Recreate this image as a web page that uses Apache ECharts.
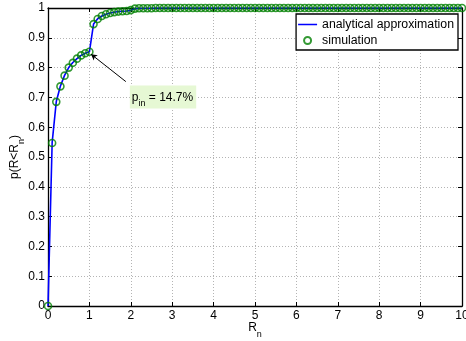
<!DOCTYPE html>
<html>
<head>
<meta charset="utf-8">
<script src="https://cdn.jsdelivr.net/npm/echarts@6/dist/echarts.min.js"></script>
<style>
  html, body { margin: 0; padding: 0; background: #fff; }
  #chart { width: 466px; height: 341px; }
</style>
</head>
<body>
<div id="chart"></div>
<script>
// R_n sample positions
const rn = [
  0.0, 0.1, 0.2, 0.3, 0.4, 0.5, 0.6, 0.7, 0.8, 0.9,
  1.0, 1.1, 1.2, 1.3, 1.4, 1.5, 1.6, 1.7, 1.8, 1.9,
  2.0, 2.1, 2.2, 2.3, 2.4, 2.5, 2.6, 2.7, 2.8, 2.9,
  3.0, 3.1, 3.2, 3.3, 3.4, 3.5, 3.6, 3.7, 3.8, 3.9,
  4.0, 4.1, 4.2, 4.3, 4.4, 4.5, 4.6, 4.7, 4.8, 4.9,
  5.0, 5.1, 5.2, 5.3, 5.4, 5.5, 5.6, 5.7, 5.8, 5.9,
  6.0, 6.1, 6.2, 6.3, 6.4, 6.5, 6.6, 6.7, 6.8, 6.9,
  7.0, 7.1, 7.2, 7.3, 7.4, 7.5, 7.6, 7.7, 7.8, 7.9,
  8.0, 8.1, 8.2, 8.3, 8.4, 8.5, 8.6, 8.7, 8.8, 8.9,
  9.0, 9.1, 9.2, 9.3, 9.4, 9.5, 9.6, 9.7, 9.8, 9.9,
  10.0
];

// analytical approximation of p(R < R_n)
const analytical = [
  0.000, 0.548, 0.686, 0.738, 0.774, 0.800, 0.817, 0.830, 0.841, 0.848,
  0.853, 0.946, 0.964, 0.973, 0.979, 0.983, 0.986, 0.988, 0.989, 0.990,
  0.992, 0.998, 0.999, 0.999, 0.999, 0.999, 1.000, 1.000, 1.000, 1.000,
  1.000, 1.000, 1.000, 1.000, 1.000, 1.000, 1.000, 1.000, 1.000, 1.000,
  1.000, 1.000, 1.000, 1.000, 1.000, 1.000, 1.000, 1.000, 1.000, 1.000,
  1.000, 1.000, 1.000, 1.000, 1.000, 1.000, 1.000, 1.000, 1.000, 1.000,
  1.000, 1.000, 1.000, 1.000, 1.000, 1.000, 1.000, 1.000, 1.000, 1.000,
  1.000, 1.000, 1.000, 1.000, 1.000, 1.000, 1.000, 1.000, 1.000, 1.000,
  1.000, 1.000, 1.000, 1.000, 1.000, 1.000, 1.000, 1.000, 1.000, 1.000,
  1.000, 1.000, 1.000, 1.000, 1.000, 1.000, 1.000, 1.000, 1.000, 1.000,
  1.000
];

// simulated p(R < R_n)
const simulation = [
  0.000, 0.547, 0.685, 0.737, 0.773, 0.800, 0.816, 0.830, 0.841, 0.848,
  0.853, 0.946, 0.963, 0.973, 0.979, 0.983, 0.986, 0.988, 0.989, 0.990,
  0.993, 0.998, 0.999, 0.999, 0.999, 0.999, 1.000, 1.000, 1.000, 1.000,
  1.000, 1.000, 1.000, 1.000, 1.000, 1.000, 1.000, 1.000, 1.000, 1.000,
  1.000, 1.000, 1.000, 1.000, 1.000, 1.000, 1.000, 1.000, 1.000, 1.000,
  1.000, 1.000, 1.000, 1.000, 1.000, 1.000, 1.000, 1.000, 1.000, 1.000,
  1.000, 1.000, 1.000, 1.000, 1.000, 1.000, 1.000, 1.000, 1.000, 1.000,
  1.000, 1.000, 1.000, 1.000, 1.000, 1.000, 1.000, 1.000, 1.000, 1.000,
  1.000, 1.000, 1.000, 1.000, 1.000, 1.000, 1.000, 1.000, 1.000, 1.000,
  1.000, 1.000, 1.000, 1.000, 1.000, 1.000, 1.000, 1.000, 1.000, 1.000,
  1.000
];

const xTicks = [0, 1, 2, 3, 4, 5, 6, 7, 8, 9, 10];
const yTicks = [0, 0.1, 0.2, 0.3, 0.4, 0.5, 0.6, 0.7, 0.8, 0.9, 1];

// annotated point: outage probability at R_n = 1
const pinIndex = 10;
const pinX = rn[pinIndex];
const pinY = simulation[pinIndex];
const pinPct = ((1 - pinY) * 100).toFixed(1);

const FONT = 'Liberation Sans, Arial, Helvetica, sans-serif';
const BLUE = '#0000ff';
const GREEN = '#008000';
const FS = 12;

const chart = echarts.init(document.getElementById('chart'), null, { renderer: 'canvas' });

const axisCommon = {
  axisLine: { show: true, onZero: false, lineStyle: { color: '#000', width: 1.3 } },
  axisTick: { show: true, inside: true, length: 4, lineStyle: { color: '#000', width: 1 } },
  splitLine: { show: false }
};

const subRich = {
  r: { fontSize: FS, color: '#000', fontFamily: FONT },
  s: { fontSize: 9, color: '#000', fontFamily: FONT, padding: [13, 0, 0, 0] }
};

chart.setOption({
  animation: false,
  backgroundColor: '#fff',
  textStyle: { fontFamily: FONT },
  grid: { left: 48, right: 4, top: 8, bottom: 35, containLabel: false, outerBoundsMode: 'none' },
  legend: {
    orient: 'vertical',
    right: 8,
    top: 14,
    padding: [3, 4, 2, 2],
    itemGap: 1,
    itemWidth: 19,
    itemHeight: 7,
    itemTextGap: 3,
    symbolKeepAspect: true,
    backgroundColor: '#fff',
    borderColor: '#000',
    borderWidth: 1.3,
    borderRadius: 0,
    textStyle: { color: '#000', fontSize: 12.3, fontFamily: FONT, lineHeight: 15 },
    data: [
      { name: 'analytical approximation', icon: 'path://M0,0 L20,0 L20,1.6 L0,1.6 Z', itemStyle: { color: BLUE } },
      { name: 'simulation' }
    ]
  },
  xAxis: [
    Object.assign({}, axisCommon, {
      type: 'value',
      min: 0, max: 10, interval: 1,
      position: 'bottom',
      name: '{r|R}{s|n}',
      nameLocation: 'middle',
      nameGap: 11,
      nameMoveOverlap: false,
      nameTextStyle: { rich: subRich },
      axisLabel: { color: '#000', fontSize: FS, margin: 4, fontFamily: FONT,
        formatter: v => xTicks.includes(v) ? String(v) : '' },
      splitLine: { show: true, lineStyle: { color: '#b4b4b4', type: [1, 2], width: 1 } }
    }),
    Object.assign({}, axisCommon, {
      type: 'value', min: 0, max: 10, interval: 1, position: 'top',
      axisLabel: { show: false }
    })
  ],
  yAxis: [
    Object.assign({}, axisCommon, {
      type: 'value',
      min: 0, max: 1, interval: 0.1,
      position: 'left',
      name: '{r|p(R<R}{s|n}{r|)}',
      nameLocation: 'middle',
      nameGap: 22,
      nameMoveOverlap: false,
      nameRotate: 90,
      nameTextStyle: { rich: subRich },
      axisLabel: { color: '#000', fontSize: FS, margin: 3, fontFamily: FONT,
        formatter: v => {
          const t = yTicks.find(k => Math.abs(k - v) < 1e-9);
          return t === undefined ? '' : String(t);
        } },
      splitLine: { show: true, lineStyle: { color: '#b4b4b4', type: [1, 2], width: 1 } }
    }),
    Object.assign({}, axisCommon, {
      type: 'value', min: 0, max: 1, interval: 0.1, position: 'right',
      axisLabel: { show: false }
    })
  ],
  series: [
    {
      name: 'analytical approximation',
      type: 'line',
      xAxisIndex: 0, yAxisIndex: 0,
      data: rn.map((x, i) => [x, analytical[i]]),
      symbol: 'none',
      showSymbol: false,
      lineStyle: { color: BLUE, width: 1.6 },
      itemStyle: { color: BLUE },
      z: 3
    },
    {
      name: 'simulation',
      type: 'scatter',
      xAxisIndex: 0, yAxisIndex: 0,
      data: rn.map((x, i) => [x, simulation[i]]),
      symbol: 'circle',
      symbolSize: 7,
      itemStyle: { color: 'rgba(0,0,0,0)', borderColor: GREEN, borderWidth: 1.6 },
      z: 4,
      markLine: {
        silent: true,
        symbol: ['arrow', 'none'],
        symbolSize: [5, 6],
        lineStyle: { color: '#000', width: 1, type: 'solid' },
        label: { show: false },
        data: [[
          { coord: [pinX + 0.04, pinY - 0.008] },
          { coord: [pinX + 0.88, pinY - 0.1] }
        ]]
      },
      markPoint: {
        silent: true,
        symbol: 'rect',
        symbolSize: 0,
        data: [{
          coord: [pinX + 0.88, pinY - 0.1],
          label: {
            show: true,
            position: 'insideTopLeft',
            offset: [-1, -1],
            formatter: '{p|p}{s|in}{p| = ' + pinPct + '%}',
            backgroundColor: '#e6f8d4',
            padding: [3, 3, 1, 2],
            rich: {
              p: { fontSize: FS, color: '#000', fontFamily: FONT },
              s: { fontSize: 9, color: '#000', fontFamily: FONT, padding: [10, 0, 0, 0] }
            }
          }
        }]
      }
    }
  ]
});
</script>
</body>
</html>
